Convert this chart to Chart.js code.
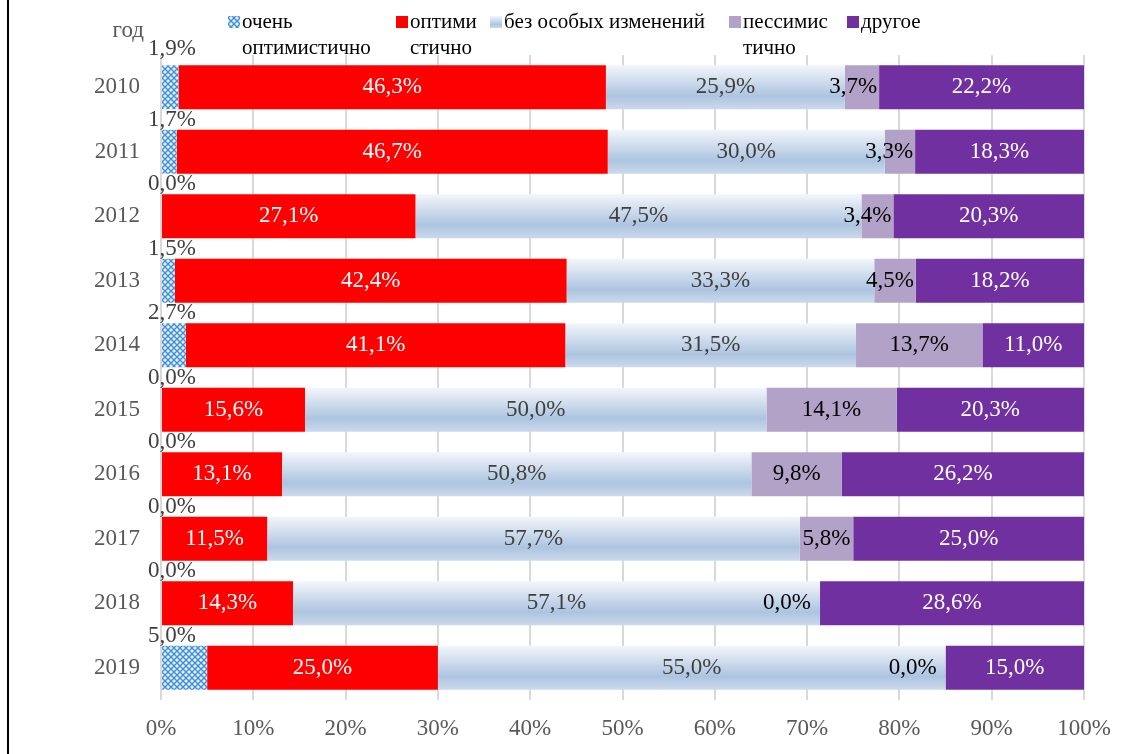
<!DOCTYPE html>
<html lang="ru">

<head>
    <meta charset="UTF-8">
    <title>Оценки по годам</title>
    <script src="https://cdn.jsdelivr.net/npm/chart.js"></script>
    <style>
        html, body { margin: 0; padding: 0; background: #fff; }
        #grafico { width: 1132px; height: 754px; position: relative; }
    </style>
</head>

<body>
    <div id="grafico"><canvas id="anos"></canvas></div>
</body>

</html>

<script>
    var anos = ['2010', '2011', '2012', '2013', '2014', '2015', '2016', '2017', '2018', '2019'];
    var ochenOpt = [1.9, 1.7, 0.0, 1.5, 2.7, 0.0, 0.0, 0.0, 0.0, 5.0];
    var optim = [46.3, 46.7, 27.1, 42.4, 41.1, 15.6, 13.1, 11.5, 14.3, 25.0];
    var bezIzm = [25.9, 30.0, 47.5, 33.3, 31.5, 50.0, 50.8, 57.7, 57.1, 55.0];
    var pessim = [3.7, 3.3, 3.4, 4.5, 13.7, 14.1, 9.8, 5.8, 0.0, 0.0];
    var drugoe = [22.2, 18.3, 20.3, 18.2, 11.0, 20.3, 26.2, 25.0, 28.6, 15.0];
    var xTicks = ['0%', '10%', '20%', '30%', '40%', '50%', '60%', '70%', '80%', '90%', '100%'];

    var serif = '"Liberation Serif", "DejaVu Serif", serif';

    // 100% stacked: each year is scaled to its own total
    function share(serie) {
        return serie.map(function (v, i) {
            var total = ochenOpt[i] + optim[i] + bezIzm[i] + pessim[i] + drugoe[i];
            return v / total * 100;
        });
    }

    function fmt(v) {
        return v.toFixed(1).replace('.', ',') + '%';
    }

    // crosshatch for "очень оптимистично"
    function makePattern() {
        var c = document.createElement('canvas');
        c.width = 6; c.height = 6;
        var g = c.getContext('2d');
        g.fillStyle = '#dcebf8';
        g.fillRect(0, 0, 6, 6);
        g.strokeStyle = '#3f8fd6';
        g.lineWidth = 1.3;
        g.beginPath();
        g.moveTo(0, 0); g.lineTo(6, 6);
        g.moveTo(6, 0); g.lineTo(0, 6);
        g.stroke();
        g.fillStyle = '#ffffff';
        g.fillRect(2.5, 0, 1, 1);
        g.fillRect(0, 2.5, 1, 1);
        return g.createPattern(c, 'repeat');
    }
    var hatch = makePattern();

    var barPct = 0.68;

    function blueGradient(context) {
        var chart = context.chart;
        var y = chart.scales.y;
        if (!y || !chart.chartArea) return '#b8cce4';
        var cy = y.getPixelForValue(context.dataIndex);
        var h = (chart.chartArea.bottom - chart.chartArea.top) / anos.length * barPct;
        var grd = chart.ctx.createLinearGradient(0, cy - h / 2, 0, cy + h / 2);
        grd.addColorStop(0, '#f3f6fb');
        grd.addColorStop(0.7, '#adc4e0');
        grd.addColorStop(1, '#cbd9ec');
        return grd;
    }

    function legendGradient(ctx, y0, h) {
        var grd = ctx.createLinearGradient(0, y0, 0, y0 + h);
        grd.addColorStop(0, '#f3f6fb');
        grd.addColorStop(0.7, '#adc4e0');
        grd.addColorStop(1, '#cbd9ec');
        return grd;
    }

    var series = [
        { label: 'очень оптимистично', linhas: ['очень', 'оптимистично'], data: ochenOpt, cor: hatch, texto: '#404040', legX: 228 },
        { label: 'оптимистично', linhas: ['оптими', 'стично'], data: optim, cor: '#ff0000', texto: '#ffffff', legX: 396 },
        { label: 'без особых изменений', linhas: ['без особых изменений'], data: bezIzm, cor: blueGradient, texto: '#404040', legX: 490 },
        { label: 'пессимистично', linhas: ['пессимис', 'тично'], data: pessim, cor: '#b3a2c7', texto: '#000000', legX: 729 },
        { label: 'другое', linhas: ['другое'], data: drugoe, cor: '#7030a0', texto: '#ffffff', legX: 847 }
    ];

    var datasets = series.map(function (s) {
        return {
            label: s.label,
            data: share(s.data),
            backgroundColor: s.cor,
            borderWidth: 0,
            barPercentage: barPct,
            categoryPercentage: 1
        };
    });

    var rotulos = {
        id: 'rotulos',
        afterDatasetsDraw: function (chart) {
            var ctx = chart.ctx;
            ctx.save();
            ctx.font = '23px ' + serif;
            ctx.textBaseline = 'middle';
            series.forEach(function (s, d) {
                var meta = chart.getDatasetMeta(d);
                meta.data.forEach(function (bar, i) {
                    var txt = fmt(s.data[i]);
                    ctx.fillStyle = s.texto;
                    if (d == 0) {
                        // small values sit above the bar start
                        ctx.fillStyle = '#404040';
                        ctx.textAlign = 'left';
                        ctx.fillText(txt, chart.chartArea.left - 13, bar.y - (i == 0 ? 38 : 32));
                        return;
                    }
                    var w = ctx.measureText(txt).width;
                    var x0 = Math.min(bar.base, bar.x);
                    var x1 = Math.max(bar.base, bar.x);
                    if (x1 - x0 < 1) {
                        ctx.fillStyle = '#000000';
                        ctx.textAlign = 'right';
                        ctx.fillText(txt, x1 - 9, bar.y);
                    } else if (x1 - x0 < w) {
                        ctx.fillStyle = '#000000';
                        ctx.textAlign = 'right';
                        ctx.fillText(txt, x1 - 2, bar.y);
                    } else {
                        ctx.textAlign = 'center';
                        ctx.fillText(txt, (x0 + x1) / 2, bar.y);
                    }
                });
            });
            ctx.restore();
        }
    };

    var legenda = {
        id: 'legenda',
        afterDraw: function (chart) {
            var ctx = chart.ctx;
            ctx.save();
            // left frame line
            ctx.fillStyle = '#000000';
            ctx.fillRect(7, 0, 2, chart.height);

            ctx.font = '23px ' + serif;
            ctx.textBaseline = 'middle';
            ctx.fillStyle = '#595959';
            ctx.textAlign = 'right';
            ctx.fillText('год', 144, 31);

            ctx.font = '21px ' + serif;
            ctx.textAlign = 'left';
            series.forEach(function (s) {
                if (typeof s.cor == 'function') {
                    ctx.fillStyle = legendGradient(ctx, 16, 12);
                } else {
                    ctx.fillStyle = s.cor;
                }
                ctx.fillRect(s.legX, 16, 12, 12);
                ctx.fillStyle = '#000000';
                s.linhas.forEach(function (l, k) {
                    ctx.fillText(l, s.legX + 14, 22 + k * 26);
                });
            });
            ctx.restore();
        }
    };

    var config = {
        type: 'bar',
        data: {
            labels: anos,
            datasets: datasets
        },
        options: {
            indexAxis: 'y',
            responsive: true,
            maintainAspectRatio: false,
            animation: false,
            layout: {
                padding: { top: 55, right: 48, left: 0, bottom: 0 }
            },
            plugins: {
                legend: { display: false },
                tooltip: { enabled: false }
            },
            scales: {
                x: {
                    stacked: true,
                    min: 0,
                    max: 100,
                    afterFit: function (scale) { scale.height = 54; },
                    grid: { color: '#d9d9d9', lineWidth: 2, drawTicks: false },
                    border: { display: false },
                    ticks: {
                        stepSize: 10,
                        padding: 15,
                        color: '#595959',
                        font: { family: serif, size: 23 },
                        callback: function (v, i) { return xTicks[i]; }
                    }
                },
                y: {
                    stacked: true,
                    afterFit: function (scale) { scale.width = 161; },
                    grid: { display: false, drawTicks: false },
                    border: { display: false },
                    ticks: {
                        padding: 21,
                        color: '#595959',
                        font: { family: serif, size: 23 }
                    }
                }
            }
        },
        plugins: [rotulos, legenda]
    };

    var ctx = document.getElementById('anos');
    var chart_anos = new Chart(ctx, config);
</script>
